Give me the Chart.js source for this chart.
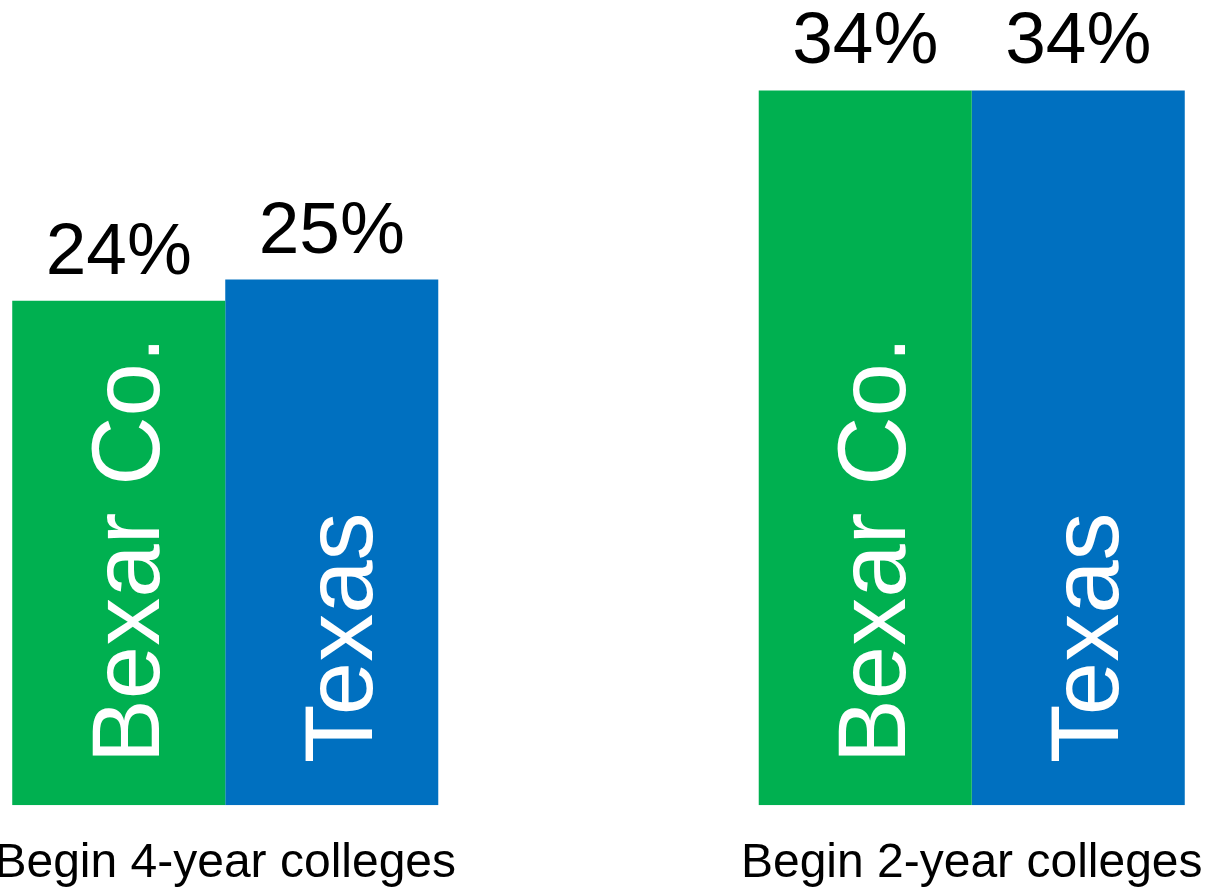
<!DOCTYPE html>
<html>
<head>
<meta charset="utf-8">
<script src="https://cdn.jsdelivr.net/npm/chart.js@4"></script>
<style>
  html, body { margin: 0; padding: 0; background: #fff; overflow: hidden; }
  #wrap { position: relative; width: 1206px; height: 890px; overflow: hidden; }
  #chart { position: absolute; left: -148px; top: 0; }
</style>
</head>
<body>
<div id="wrap"><canvas id="chart" width="1493" height="890"></canvas></div>
<script>
const categories = ["Begin 4-year colleges", "Begin 2-year colleges"];
const seriesNames = ["Bexar Co.", "Texas"];
const bexarValues = [24, 34];
const texasValues = [25, 34];
const seriesColors = ["#00B050", "#0070C0"];

const FONT = "'Liberation Sans', Arial, sans-serif";

// value on top of each bar, series name rotated inside it
const barText = {
    id: "barText",
    afterDatasetsDraw(chart) {
        const ctx = chart.ctx;
        chart.data.datasets.forEach((ds, di) => {
            const meta = chart.getDatasetMeta(di);
            meta.data.forEach((bar, i) => {
                ctx.save();
                ctx.fillStyle = "#000";
                ctx.font = "73px " + FONT;
                ctx.textAlign = "center";
                ctx.textBaseline = "alphabetic";
                ctx.fillText(ds.data[i] + "%", bar.x, bar.y - 27);
                ctx.restore();

                ctx.save();
                ctx.translate(bar.x + 40, bar.base - 42);
                ctx.rotate(-Math.PI / 2);
                ctx.fillStyle = "#fff";
                ctx.font = "96px " + FONT;
                ctx.textAlign = "left";
                ctx.textBaseline = "alphabetic";
                ctx.fillText(ds.label, 0, 0);
                ctx.restore();
            });
        });
    }
};

new Chart(document.getElementById("chart").getContext("2d"), {
    type: "bar",
    data: {
        labels: categories,
        datasets: [
            { label: seriesNames[0], data: bexarValues, backgroundColor: seriesColors[0] },
            { label: seriesNames[1], data: texasValues, backgroundColor: seriesColors[1] }
        ]
    },
    options: {
        responsive: false,
        animation: false,
        layout: { padding: { top: 0, left: 0, right: 0, bottom: -32 } },
        datasets: { bar: { barPercentage: 1, categoryPercentage: 0.5707 } },
        plugins: {
            legend: { display: false },
            tooltip: { enabled: false }
        },
        scales: {
            x: {
                grid: { display: false, drawTicks: false },
                border: { display: false },
                ticks: {
                    color: "#000",
                    padding: 32,
                    maxRotation: 0,
                    autoSkip: false,
                    font: { family: FONT, size: 48, lineHeight: 1.1 }
                }
            },
            y: {
                display: false,
                min: 0,
                max: 38.3
            }
        }
    },
    plugins: [barText]
});
</script>
</body>
</html>
